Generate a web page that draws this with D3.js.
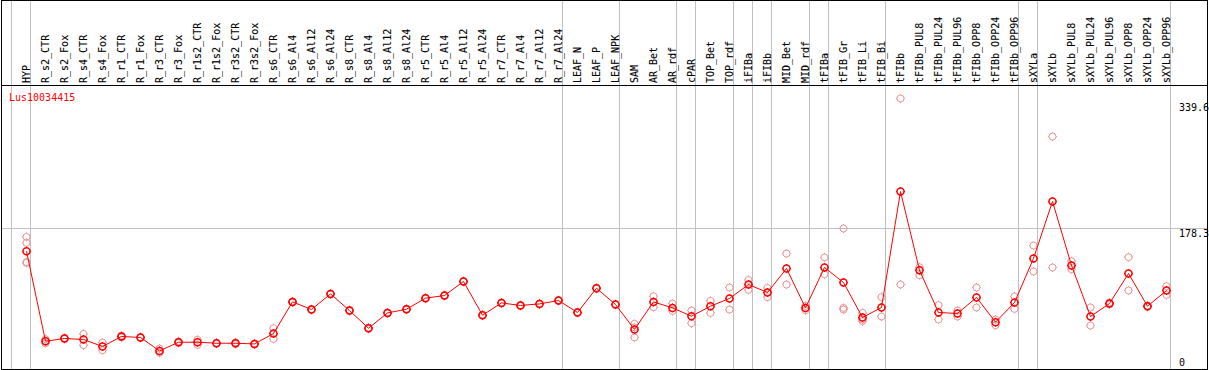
<!DOCTYPE html>
<html><head><meta charset="utf-8">
<script src="https://cdn.jsdelivr.net/npm/d3@7"></script>
<style>body{margin:0;background:#fff}svg{display:block}text{font-family:"DejaVu Sans Mono",monospace;font-size:10px}</style>
</head><body>
<script>
const title = "Lus10034415";
const groupSizes = [1,28,3,3,1,2,1,1,2,1,3,7,1,7];
const categories = ["HYP","R_s2_CTR","R_s2_Fox","R_s4_CTR","R_s4_Fox","R_r1_CTR","R_r1_Fox","R_r3_CTR","R_r3_Fox","R_r1s2_CTR","R_r1s2_Fox","R_r3s2_CTR","R_r3s2_Fox","R_s6_CTR","R_s6_Al4","R_s6_Al12","R_s6_Al24","R_s8_CTR","R_s8_Al4","R_s8_Al12","R_s8_Al24","R_r5_CTR","R_r5_Al4","R_r5_Al12","R_r5_Al24","R_r7_CTR","R_r7_Al4","R_r7_Al12","R_r7_Al24","LEAF_N","LEAF_P","LEAF_NPK","SAM","AR_Bet","AR_rdf","cPAR","TOP_Bet","TOP_rdf","iFIBa","iFIBb","MID_Bet","MID_rdf","tFIBa","tFIB_Gr","tFIB_Li","tFIB_Bi","tFIBb","tFIBb_PUL8","tFIBb_PUL24","tFIBb_PUL96","tFIBb_OPP8","tFIBb_OPP24","tFIBb_OPP96","sXYLa","sXYLb","sXYLb_PUL8","sXYLb_PUL24","sXYLb_PUL96","sXYLb_OPP8","sXYLb_OPP24","sXYLb_OPP96"];
const means = [149.1,33.2,36.7,35.4,26.4,39.3,38.0,20.7,31.9,31.9,30.6,30.6,29.7,43.1,83.8,74.0,94.1,72.7,49.9,69.6,74.4,88.6,92.0,110.1,66.7,82.5,79.2,81.2,85.6,70.2,101.4,80.5,48.3,83.8,76.1,65.4,78.3,88.2,106.2,95.9,126.8,76.1,128.1,108.8,63.7,76.6,225.9,124.6,70.2,68.9,89.5,57.7,83.0,139.7,213.1,130.7,65.0,81.7,120.4,78.3,98.5];
const replicates = [[167.5,159.8,134,135],[35.8,30.6],[36,37.5],[42.6,28.1],[31.5,21.6],[38,40.5],[37.5,38.5],[23.8,18.2],[31,33],[35,28.5],[30,31],[29.5,31.7],[29,30.5],[49.9,36.2],[83,84.6],[73.5,74.5],[93.5,94.7],[72,73.4],[49.2,50.6],[69,70.2],[73.8,75],[88,89.2],[91.4,92.6],[109.5,110.7],[66,67.4],[82,83],[78.6,79.8],[80.6,81.8],[85,86.2],[69.6,70.8],[100.8,102],[80,81],[55.5,38,51],[91.1,77.0],[81.7,72.2],[72.7,56.4],[85.1,69.6],[102.3,74.0],[112.1,99.3],[101.8,89.9],[146.1,106.2],[78.7,73.1],[141.0,119.5],[178.3,76.1,74.0],[69.6,61.1,59.0],[89.9,65.0],[345.6,106.2],[128.5,118.2],[79.6,61.1],[72.7,65.0],[102.3,76.6],[61.1,53.8],[90.8,74.8],[156.4,122.9],[296.7,128.1],[136.2,125.9],[76.6,53.4],[80.5,83],[141.4,98.5],[77.5,79],[104.0,92.8]];
const yTicks = [339.6,178.3,0];

const W = 1209, H = 370;
const svg = d3.select("body").append("svg").attr("width",W).attr("height",H);
const xb = d3.scaleLinear().domain([0,categories.length]).range([11.5, 11.5+19*categories.length]);
const xp = i => xb(i) + 15;
const y = d3.scaleLinear().domain([0,178.3]).range([367,228.5]);

// vertical group lines
const bounds = [0]; groupSizes.forEach(s => bounds.push(bounds[bounds.length-1]+s));
svg.append("g").selectAll("line").data(bounds).join("line")
  .attr("x1",d=>xb(d)).attr("x2",d=>xb(d)).attr("y1",0).attr("y2",369)
  .attr("stroke","#c0c0c0").attr("stroke-width",1);
// horizontal grid line
svg.append("line").attr("x1",1).attr("x2",1208).attr("y1",y(178.3)).attr("y2",y(178.3))
  .attr("stroke","#c0c0c0");
// header separator
svg.append("line").attr("x1",1).attr("x2",1208).attr("y1",85.5).attr("y2",85.5).attr("stroke","#000");
// border
svg.append("path").attr("d","M1,0.5H1208M1.5,0V370M1207.5,0V370M1,369.5H1208").attr("stroke","#000").attr("fill","none");

// header labels
svg.append("g").selectAll("text").data(categories).join("text")
  .attr("transform",(d,i)=>`translate(${xp(i)+3.1},83) rotate(-90)`)
  .attr("fill","#000").attr("stroke","#000").attr("stroke-width",0.1).text(d=>d);

// title
svg.append("text").attr("x",9).attr("y",101).attr("fill","#ff0000").text(title);

// y labels
svg.append("g").selectAll("text").data(yTicks).join("text")
  .attr("x",1179).attr("y",d=> d===0 ? y(d)-1 : y(d)+8).attr("fill","#000").text(d=>d);

function marker(g, cx, cy, color, sw){
  const r = 3.5;
  g.append("circle").attr("cx",cx).attr("cy",cy).attr("r",r).attr("fill","none").attr("stroke",color).attr("stroke-width",sw);
  g.append("path").attr("d",`M${cx},${cy-r-1}V${cy-r}M${cx},${cy+r}V${cy+r+1}M${cx-r-1},${cy}H${cx-r}M${cx+r},${cy}H${cx+r+1}`)
    .attr("stroke",color).attr("stroke-width",1);
}
// replicates
const rg = svg.append("g");
replicates.forEach((reps,i)=>reps.forEach(v=>marker(rg, xp(i), y(v), "#eb9696", 1)));
// mean line
svg.append("path").datum(means).attr("fill","none").attr("stroke","#ff0000").attr("stroke-width",1)
  .attr("d", d3.line().x((d,i)=>xp(i)).y(d=>y(d)));
const mg = svg.append("g");
means.forEach((v,i)=>marker(mg, xp(i), y(v), "#ff0000", 1.5));
</script>
</body></html>
